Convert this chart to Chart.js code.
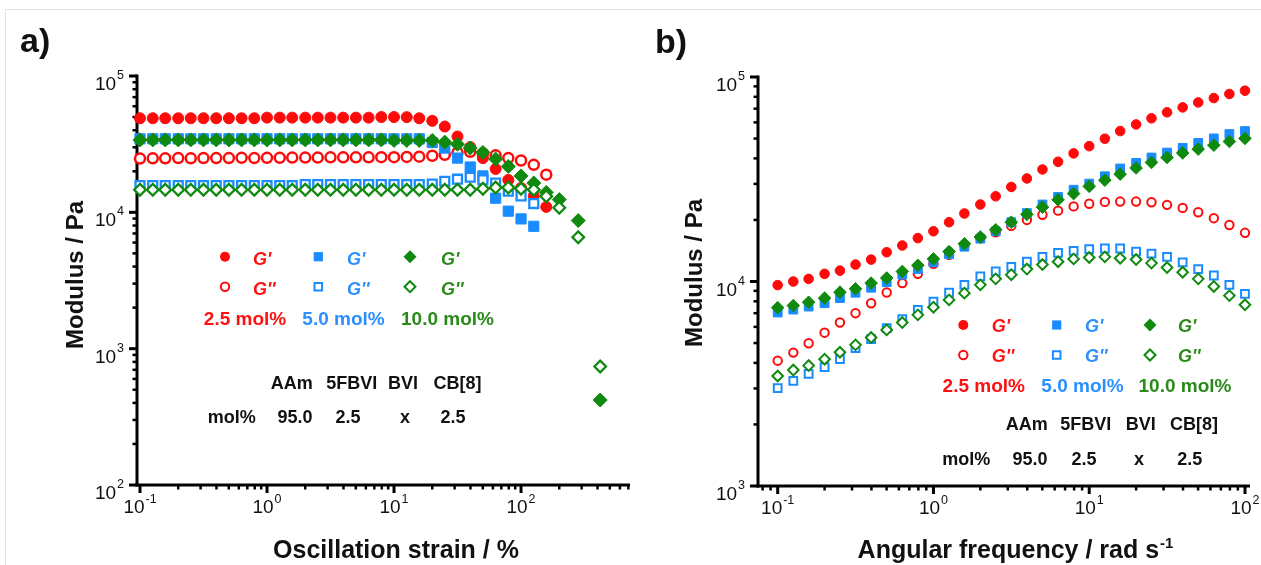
<!DOCTYPE html>
<html>
<head>
<meta charset="utf-8">
<script src="https://cdn.jsdelivr.net/npm/chart.js@4.4.1/dist/chart.umd.min.js"></script>
<style>
html,body{margin:0;padding:0;background:#fff;}
#wrap{position:relative;width:1261px;height:565px;overflow:hidden;background:#fff;}
#frame{position:absolute;left:5px;top:9px;width:1300px;height:600px;border-left:1px solid #e4e4e4;border-top:1px solid #e4e4e4;}
#pa{position:absolute;left:0;top:0;width:640px;height:565px;}
#pb{position:absolute;left:640px;top:0;width:621px;height:565px;}
canvas{display:block;}
</style>
</head>
<body>
<div id="wrap">
  <div id="frame"></div>
  <div id="pa"><canvas id="ca" width="640" height="565"></canvas></div>
  <div id="pb"><canvas id="cb" width="621" height="565"></canvas></div>
</div>
<script>
// ---------------- DATA: panel a (amplitude sweep) ----------------
const strainA = [0.1,0.126,0.158,0.2,0.251,0.316,0.398,0.501,0.631,0.794,1,1.26,1.58,2,2.51,3.16,3.98,5.01,6.31,7.94,10,12.6,15.8,20,25.1,31.6,39.8,50.1,63.1,79.4,100,126,158,200,282,420];
const redGpA = [49000,49000,49000,49000,49000,49000,49000,49000,49000,49000,49500,49500,49500,49500,49500,49500,49500,49500,49500,50000,50000,49900,49000,46900,42600,36000,30100,25000,20800,17300,15100,13200,10960];
const redGppA = [24800,24900,24900,25000,24900,25000,25000,25000,25100,25000,25100,25100,25200,25200,25200,25300,25300,25300,25300,25400,25400,25500,25600,26000,26400,27400,27800,27000,26200,25000,24000,22300,18900];
const blueGpA = [34600,34600,34600,34600,34600,34600,34600,34600,34600,34600,34600,34600,34600,34600,34600,34600,34600,34600,34600,34600,34600,34600,34600,32500,29600,25000,21500,18500,12700,10200,8950,7900];
const blueGppA = [15700,15700,15700,15700,15700,15700,15700,15700,15700,15700,15700,15700,15700,16000,16000,16000,16000,16000,16000,16000,16000,16000,16000,16100,16900,17500,18100,17300,16400,14300,13200,11600];
const greenGpA = [34000,34000,34000,34000,34000,34000,34000,34000,34000,34000,34000,34000,34000,34000,34000,34000,34000,34000,34000,34000,33700,33700,33700,33700,32700,31600,29600,27500,24600,21700,18500,16400,14000,12400,8700,420];
const greenGppA = [14650,14650,14650,14650,14650,14650,14650,14650,14650,14650,14650,14650,14650,14650,14650,14650,14650,14650,14650,14650,14650,14650,14650,14650,14650,14650,14650,14900,15200,15200,14900,14650,13100,10800,6560,740];

// ---------------- DATA: panel b (frequency sweep) ----------------
const freqB = [0.1,0.126,0.158,0.2,0.251,0.316,0.398,0.501,0.631,0.794,1,1.26,1.58,2,2.51,3.16,3.98,5.01,6.31,7.94,10,12.6,15.8,20,25.1,31.6,39.8,50.1,63.1,79.4,100];
const redGpB = [9600,10000,10300,10900,11300,12100,12800,13900,15000,16300,17600,19500,21500,23800,26100,29000,31900,35300,38500,42300,45900,49900,54400,58600,62800,67200,71000,75100,78900,82600,85700];
const redGppB = [4100,4490,4990,5620,6300,7000,7830,8830,9820,10900,12200,13500,15000,16300,17400,18700,20000,21200,22200,23300,24000,24500,24600,24600,24400,23700,22900,21800,20400,18900,17300];
const blueGpB = [7050,7290,7540,7830,8290,8810,9320,9930,10800,11500,12400,13600,14800,16200,17600,19500,21600,23800,25900,28100,30100,32700,35700,38000,40400,42700,45000,47600,50100,52600,54400];
const blueGppB = [3010,3270,3530,3810,4170,4720,5230,5910,6550,7270,7980,8830,9630,10600,11200,11800,12500,13200,13800,14100,14400,14500,14500,14000,13700,13200,12400,11500,10700,9630,8710];
const greenGpB = [7450,7630,7920,8290,8870,9210,9820,10400,11200,12000,12900,14000,15300,16500,17900,19500,21300,23100,25100,26900,29200,31300,33500,35900,38200,40400,42500,44400,46400,48400,50100];
const greenGppB = [3450,3690,3880,4170,4510,4900,5320,5800,6300,6870,7490,8130,8770,9630,10300,10800,11500,12100,12500,12900,13100,13200,13000,12800,12300,11700,11100,10300,9460,8530,7690];

// ---------------- tick labels ----------------
const xTickValsA = [0.1, 1, 10, 100];
const xTickExpA = ['-1', '0', '1', '2'];
const yTickValsA = [100, 1000, 10000, 100000];
const yTickExpA = ['2', '3', '4', '5'];
const xTickValsB = [0.1, 1, 10, 100];
const xTickExpB = ['-1', '0', '1', '2'];
const yTickValsB = [1000, 10000, 100000];
const yTickExpB = ['3', '4', '5'];

// legend / table texts
const seriesLabels = ["2.5 mol%", "5.0 mol%", "10.0 mol%"];
const tableHead = ["AAm", "5FBVI", "BVI", "CB[8]"];
const tableRow = ["mol%", "95.0", "2.5", "x", "2.5"];

// ---------------- styling ----------------
const RED = '#ff0a0a', BLUE = '#1a8cff', GREEN = '#0f8a0f';
const TXT_RED = '#ff1010', TXT_BLUE = '#2b8fff', TXT_GREEN = '#2a8a1a';
const FONT = '"Liberation Sans", Arial, Helvetica, sans-serif';

function pts(xs, ys) { return ys.map((v, i) => ({x: xs[i], y: v})); }
function ds(label, xs, ys, style, color, open, r, bw) {
  return {
    label, data: pts(xs, ys), showLine: false, clip: false,
    pointStyle: style, pointRadius: r, pointHoverRadius: r,
    backgroundColor: open ? '#ffffff' : color, borderColor: color,
    pointBackgroundColor: open ? '#ffffff' : color, pointBorderColor: color,
    pointBorderWidth: open ? bw : 1, borderWidth: open ? bw : 1
  };
}

function eachLogTick(min, max, fn) {
  const e0 = Math.floor(Math.log10(min)), e1 = Math.ceil(Math.log10(max));
  for (let e = e0; e <= e1; e++) {
    for (let m = 1; m <= 9; m++) {
      const v = m * Math.pow(10, e);
      if (v >= min * 0.9999 && v <= max * 1.0001) fn(v, m === 1);
    }
  }
}

function powLabel(ctx, exp, x, baseY, supY, align) {
  ctx.fillStyle = '#111';
  ctx.textBaseline = 'alphabetic';
  ctx.textAlign = 'left';
  ctx.font = '19px ' + FONT;
  const wb = ctx.measureText('10').width;
  ctx.font = '12.5px ' + FONT;
  const ws = ctx.measureText(exp).width;
  const total = wb + 1 + ws;
  let x0 = align === 'right' ? x - total : x - total / 2;
  ctx.font = '19px ' + FONT;
  ctx.fillText('10', x0, baseY);
  ctx.font = '12.5px ' + FONT;
  ctx.fillText(exp, x0 + wb + 1, supY);
}

function marker(ctx, style, x, y, s, color, open) {
  ctx.save();
  ctx.beginPath();
  if (style === 'circle') ctx.arc(x, y, s, 0, Math.PI * 2);
  else if (style === 'rect') ctx.rect(x - s, y - s, 2 * s, 2 * s);
  else { ctx.moveTo(x - s, y); ctx.lineTo(x, y - s); ctx.lineTo(x + s, y); ctx.lineTo(x, y + s); ctx.closePath(); }
  if (open) { ctx.fillStyle = '#fff'; ctx.fill(); ctx.lineWidth = 2; ctx.strokeStyle = color; ctx.stroke(); }
  else { ctx.fillStyle = color; ctx.fill(); }
  ctx.restore();
}

function txt(ctx, s, x, y, font, color, align) {
  ctx.font = font; ctx.fillStyle = color; ctx.textAlign = align || 'center'; ctx.textBaseline = 'alphabetic';
  ctx.fillText(s, x, y);
}

function makePlugin(P) {
  return {
    id: 'panelDecor',
    beforeDatasetsDraw(chart) {
      const ctx = chart.ctx, ca = chart.chartArea, xs = chart.scales.x, ys = chart.scales.y;
      ctx.save();
      ctx.strokeStyle = '#000';
      ctx.lineCap = 'butt';
      // y ticks
      eachLogTick(ys.min, ys.max, (v, major) => {
        const p = ys.getPixelForValue(v);
        ctx.lineWidth = major ? 3 : 2.5;
        ctx.beginPath(); ctx.moveTo(ca.left, p); ctx.lineTo(ca.left - (major ? 8 : 4.5), p); ctx.stroke();
      });
      // x ticks
      eachLogTick(xs.min, xs.max, (v, major) => {
        const p = xs.getPixelForValue(v);
        ctx.lineWidth = major ? 3 : 2.5;
        ctx.beginPath(); ctx.moveTo(p, ca.bottom); ctx.lineTo(p, ca.bottom + (major ? 8 : 4.5)); ctx.stroke();
      });
      // axis lines
      ctx.lineWidth = 3;
      ctx.beginPath(); ctx.moveTo(ca.left, ca.top - 1.5); ctx.lineTo(ca.left, ca.bottom + 1.5); ctx.stroke();
      ctx.beginPath(); ctx.moveTo(ca.left - 1.5, ca.bottom); ctx.lineTo(ca.right, ca.bottom); ctx.stroke();
      // tick labels
      P.yVals.forEach((v, i) => {
        const p = ys.getPixelForValue(v);
        powLabel(ctx, P.yExp[i], ca.left - 13, p + 14, p + 3, 'right');
      });
      P.xVals.forEach((v, i) => {
        const p = xs.getPixelForValue(v);
        powLabel(ctx, P.xExp[i], p, ca.bottom + 28, ca.bottom + 18, 'center');
      });
      // y title
      ctx.save();
      ctx.translate(P.yTitleX, P.yTitleY);
      ctx.rotate(-Math.PI / 2);
      txt(ctx, 'Modulus / Pa', 0, 0, 'bold 24px ' + FONT, '#111', 'center');
      ctx.restore();
      // x title
      ctx.font = 'bold 25px ' + FONT;
      const w1 = ctx.measureText(P.xTitle).width;
      let wsup = 0;
      if (P.xTitleSup) { ctx.font = 'bold 15px ' + FONT; wsup = ctx.measureText(P.xTitleSup).width; }
      const x0 = P.xTitleX - (w1 + wsup) / 2;
      txt(ctx, P.xTitle, x0, P.xTitleY, 'bold 25px ' + FONT, '#111', 'left');
      if (P.xTitleSup) txt(ctx, P.xTitleSup, x0 + w1 + 1, P.xTitleY - 10, 'bold 15px ' + FONT, '#111', 'left');
      // panel letter
      txt(ctx, P.letter, P.letterX, P.letterY, 'bold 34px ' + FONT, '#111', 'left');
      // legend
      const L = P.leg;
      const cols = [[RED, TXT_RED, 'circle', 5], [BLUE, TXT_BLUE, 'rect', 4.6], [GREEN, TXT_GREEN, 'diamond', 6.5]];
      cols.forEach((c, k) => {
        marker(ctx, c[2], L.mx[k], L.r1, c[3], c[0], false);
        marker(ctx, c[2], L.mx[k], L.r2, c[2] === 'circle' ? 4.2 : (c[2] === 'rect' ? 3.8 : 5.5), c[0], true);
        txt(ctx, "G'", L.gx[k], L.r1 + L.gdy, 'italic bold 18px ' + FONT, c[1], 'left');
        txt(ctx, "G''", L.gx[k], L.r2 + L.gdy, 'italic bold 18px ' + FONT, c[1], 'left');
        txt(ctx, seriesLabels[k], L.sx[k], L.sy, 'bold 19px ' + FONT, c[1], 'center');
      });
      // table
      const T = P.tab;
      tableHead.forEach((h, k) => txt(ctx, h, T.hx[k], T.hy, 'bold 18px ' + FONT, '#111', 'center'));
      tableRow.forEach((h, k) => txt(ctx, h, T.rx[k], T.ry, 'bold 18px ' + FONT, '#111', 'center'));
      ctx.restore();
    }
  };
}

function makeChart(id, datasets, xr, yr, pad, P) {
  return new Chart(document.getElementById(id), {
    type: 'scatter',
    data: { datasets },
    options: {
      responsive: false, animation: false, devicePixelRatio: 1, events: [],
      layout: { padding: pad, autoPadding: false },
      plugins: { legend: { display: false }, tooltip: { enabled: false } },
      scales: {
        x: { type: 'logarithmic', min: xr[0], max: xr[1], display: false, bounds: 'data' },
        y: { type: 'logarithmic', min: yr[0], max: yr[1], display: false, bounds: 'data' }
      }
    },
    plugins: [makePlugin(P)]
  });
}

// panel a
makeChart('ca', [
  ds("G'' 10.0", strainA, greenGppA, 'rectRot', GREEN, true, 5.8, 2.3),
  ds("G' 10.0", strainA, greenGpA, 'rectRot', GREEN, false, 7, 1),
  ds("G'' 5.0", strainA, blueGppA, 'rect', BLUE, true, 6.3, 2.3),
  ds("G' 5.0", strainA, blueGpA, 'rect', BLUE, false, 7.2, 1),
  ds("G'' 2.5", strainA, redGppA, 'circle', RED, true, 5, 2.5),
  ds("G' 2.5", strainA, redGpA, 'circle', RED, false, 5.5, 1)
], [0.0947, 721], [100, 100000], { left: 137, right: 10, top: 76, bottom: 80 }, {
  xVals: xTickValsA, xExp: xTickExpA, yVals: yTickValsA, yExp: yTickExpA,
  yTitleX: 83, yTitleY: 275, xTitle: 'Oscillation strain / %', xTitleSup: '', xTitleX: 396, xTitleY: 558,
  letter: 'a)', letterX: 20, letterY: 52,
  leg: { mx: [225, 318.3, 410], gx: [253, 347, 441], gdy: 8, r1: 256.7, r2: 286.7, sx: [245, 343.5, 447.5], sy: 325 },
  tab: { hx: [291.7, 351.7, 403, 457.5], hy: 389, rx: [231.7, 295, 348, 405, 453], ry: 422.5 }
});

// panel b (canvas offset 640)
makeChart('cb', [
  ds("G'' 10.0", freqB, greenGppB, 'rectRot', GREEN, true, 5.3, 2),
  ds("G' 10.0", freqB, greenGpB, 'rectRot', GREEN, false, 6.3, 1),
  ds("G'' 5.0", freqB, blueGppB, 'rect', BLUE, true, 5.5, 2),
  ds("G' 5.0", freqB, blueGpB, 'rect', BLUE, false, 6.2, 1),
  ds("G'' 2.5", freqB, redGppB, 'circle', RED, true, 4.2, 2),
  ds("G' 2.5", freqB, redGpB, 'circle', RED, false, 4.8, 1)
], [0.07475, 107.7], [1000, 100000], { left: 118, right: 11, top: 77, bottom: 79 }, {
  xVals: xTickValsB, xExp: xTickExpB, yVals: yTickValsB, yExp: yTickExpB,
  yTitleX: 62, yTitleY: 273, xTitle: 'Angular frequency / rad s', xTitleSup: '-1', xTitleX: 1015 - 640, xTitleY: 558,
  letter: 'b)', letterX: 15, letterY: 53,
  leg: { mx: [323.3, 416.7, 510], gx: [351.7, 445, 538], gdy: 7, r1: 325, r2: 355, sx: [343.8, 442.5, 545], sy: 392 },
  tab: { hx: [386.7, 445.8, 500.8, 554], hy: 430, rx: [326.3, 390, 444, 499, 549.7], ry: 465 }
});
</script>
</body>
</html>
